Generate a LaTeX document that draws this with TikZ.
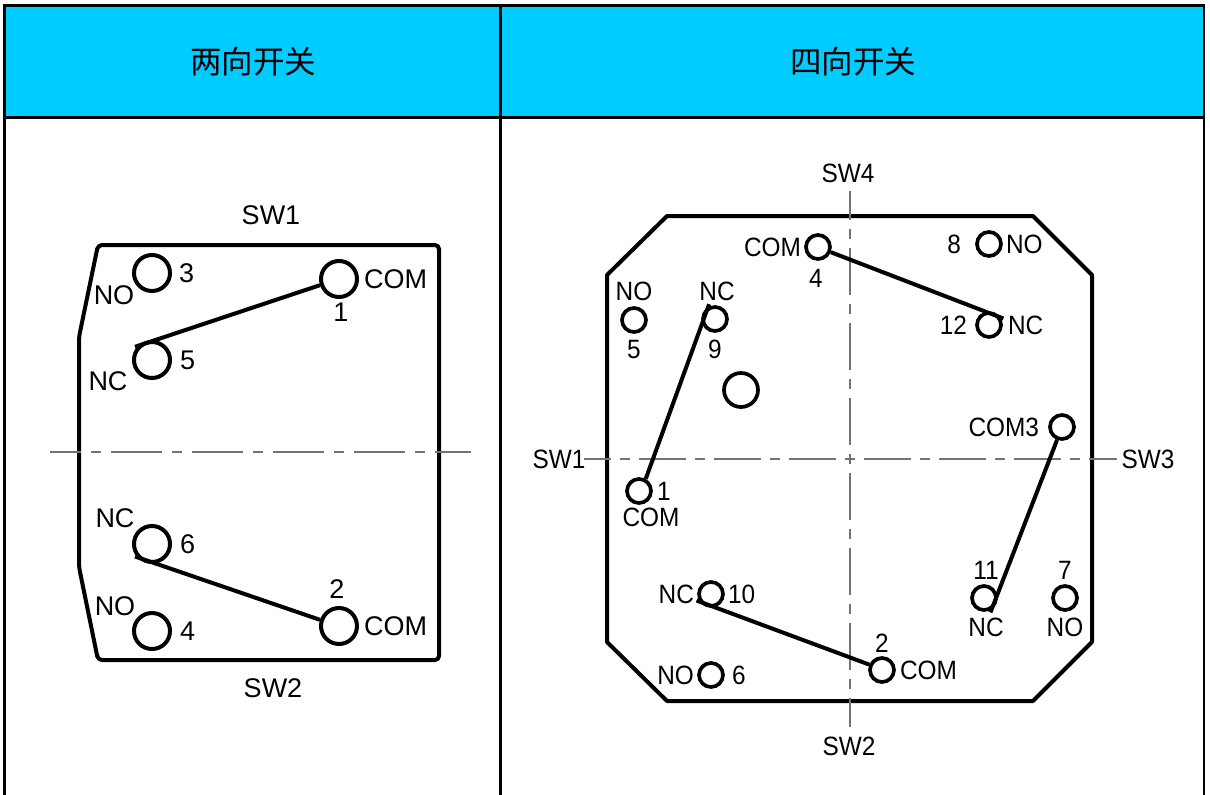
\documentclass[tikz,border=0pt]{standalone}
\usepackage{fontspec}
\setmainfont{Liberation Sans}
\newfontfamily\cjkfont{Noto Sans CJK SC}
\newfontfamily\narrowfont[FakeStretch=0.92]{Liberation Sans}
\usetikzlibrary{positioning}
\definecolor{headblue}{rgb}{0,0.8,1}
\definecolor{axisgray}{rgb}{0.45,0.45,0.45}

\begin{document}
\begin{tikzpicture}[x=1pt,y=-1pt,node distance=5pt]
	  \tikzstyle{hole}=[circle,draw=black,line width=4pt,fill=none,inner sep=0pt,minimum size=36pt]
	  \tikzstyle{smallhole}=[hole,line width=3.7pt,minimum size=24pt]
	  \tikzstyle{bighole}=[hole,line width=3.7pt,minimum size=34pt]
	  \tikzstyle{arm}=[line width=4pt]
	  \tikzstyle{outline}=[line width=4pt,line join=round]
	  \tikzstyle{centerline}=[axisgray,line width=1.2pt,dash pattern=on 47pt off 9pt on 10pt off 9pt]
	  \tikzstyle{widecenterline}=[axisgray,line width=1.2pt,dash pattern=on 51pt off 10pt on 10pt off 10pt]
	  \tikzstyle{grid}=[black,line width=2.8pt]
	  \tikzstyle{heading}=[font=\cjkfont\fontsize{31.5}{32}\selectfont,inner sep=0pt]
	  \tikzstyle{big}=[font=\fontsize{27}{28}\selectfont,inner sep=0pt]
	  \tikzstyle{small}=[font=\narrowfont\fontsize{26.5}{27}\selectfont,inner sep=0pt]

	  \useasboundingbox (0,0) rectangle (1210,795);
	  \fill[white] (0,0) rectangle (1210,795);
	  \fill[headblue] (5,5) rectangle (1204,117);
	  \draw[grid] (4.7,795) -- (4.7,5.3) -- (1204,5.3) -- (1204,795);
	  \draw[grid] (4.7,117.3) -- (1204,117.3);
	  \draw[grid] (500.3,5.3) -- (500.3,795);
	  \node[heading] (twohead) at (253,62) {两向开关};
	  \node[heading] (fourhead) at (853,62) {四向开关};

	  \draw[outline,rounded corners=4pt] (98,245) -- (439,245) -- (439,660) -- (98,660) -- (79,567) -- (79,337) -- cycle;
	  \coordinate (axl) at (50,452);
	  \coordinate (axr) at (471,452);
	  \draw[widecenterline,dash phase=20pt] (axl) -- (axr);

	  \node[hole] (a3) at (152,273) {};
	  \node[hole] (a1) at (339,279) {};
	  \node[hole] (a5) at (152,360) {};
	  \node[hole] (a6) at (152,544) {};
	  \node[hole] (a2) at (339,626) {};
	  \node[hole] (a4) at (152,631) {};

	  \draw[arm,shorten >=-3pt] (a1.198) -- (a5.135);
	  \draw[arm,shorten >=-2pt] (a2.162) -- (a6.221);

	  \node[big] (asw1) at (271,215) {SW1};
	  \node[big] (asw2) at (273,688) {SW2};
	  \node[big] [right=7pt of a3] {3};
	  \node[big] [right=8pt of a5] {5};
	  \node[big] [right=8pt of a6] {6};
	  \node[big] [right=8pt of a4] {4};
	  \node[big] [right=5pt of a1] {COM};
	  \node[big] [right=5pt of a2] {COM};
	  \node[big] [below=4pt of a1,xshift=2pt] {1};
	  \node[big] [above=7pt of a2,xshift=-2pt] {2};
	  \node[big] at (114,295) {NO};
	  \node[big] at (108,381) {NC};
	  \node[big] at (115,518) {NC};
	  \node[big] at (115,606) {NO};

	  \draw[outline] (667,216) -- (1033,216) -- (1092,275) -- (1092,642) -- (1033,701) -- (667,701) -- (607,642) -- (607,275) -- cycle;

	  \node[small] (bsw4) at (848,173) {SW4};
	  \node[small] (bsw2) at (849,746) {SW2};
	  \node[small] (bsw1) at (559,459) {SW1};
	  \node[small] (bsw3) at (1148,459) {SW3};
	  \coordinate (axt) at (850,190.7);
	  \coordinate (axb) at (850,727);
	  \coordinate (axw) at (584,459);
	  \coordinate (axe) at (1117,459);
	  \draw[centerline,dash phase=18pt] (axt) -- (axb);
	  \draw[centerline,dash phase=20pt] (axw) -- (axe);

	  \node[smallhole] (b4) at (818,247) {};
	  \node[smallhole] (b8) at (989,244) {};
	  \node[smallhole] (b12) at (989,325) {};
	  \node[smallhole] (b5) at (634,320) {};
	  \node[smallhole] (b9) at (715,319) {};
	  \node[bighole] (bmid) at (741,390) {};
	  \node[smallhole] (b3) at (1062,427) {};
	  \node[smallhole] (b1) at (639,491) {};
	  \node[smallhole] (b10) at (711,594) {};
	  \node[smallhole] (b6) at (711,675) {};
	  \node[smallhole] (b2) at (882,670) {};
	  \node[smallhole] (b11) at (984,598) {};
	  \node[smallhole] (b7) at (1065,598) {};

	  \path[arm,draw,shorten >=-3pt]
	  (b4.338) edge (b12.33)
	  (b3.249) edge (b11.303)
	  (b2.157) edge (b10.213)
	  (b1.61) edge (b9.120);

	  \node[small] [left=3pt of b4] {COM};
	  \node[small] [below=8pt of b4,xshift=-2pt] {4};
	  \node[small] [left=14pt of b8] {8};
	  \node[small] [right=3pt of b8] {NO};
	  \node[small] [above=5pt of b5] {NO};
	  \node[small] [above=4pt of b9,xshift=2pt] {NC};
	  \node[small] [below=6pt of b5] {5};
	  \node[small] [below=7pt of b9] {9};
	  \node[small] [left=8pt of b12] {12};
	  \node[small] [right=5pt of b12] {NC};
	  \node[small] [left=9pt of b3] {COM3};
	  \node[small] [right=4pt of b1] {1};
	  \node[small] [below=3pt of b1,xshift=12pt] {COM};
	  \node[small] [left=3pt of b10] {NC};
	  \node[small] [right=3pt of b10] {10};
	  \node[small] [above=4pt of b11,xshift=2pt] {11};
	  \node[small] [above=4pt of b7] {7};
	  \node[small] [below=6pt of b11,xshift=2pt] {NC};
	  \node[small] [below=6pt of b7] {NO};
	  \node[small] [left=3pt of b6] {NO};
	  \node[small] [right=7pt of b6] {6};
	  \node[small] [above=3pt of b2] {2};
	  \node[small] [right=4pt of b2] {COM};
	\end{tikzpicture}
\end{document}
